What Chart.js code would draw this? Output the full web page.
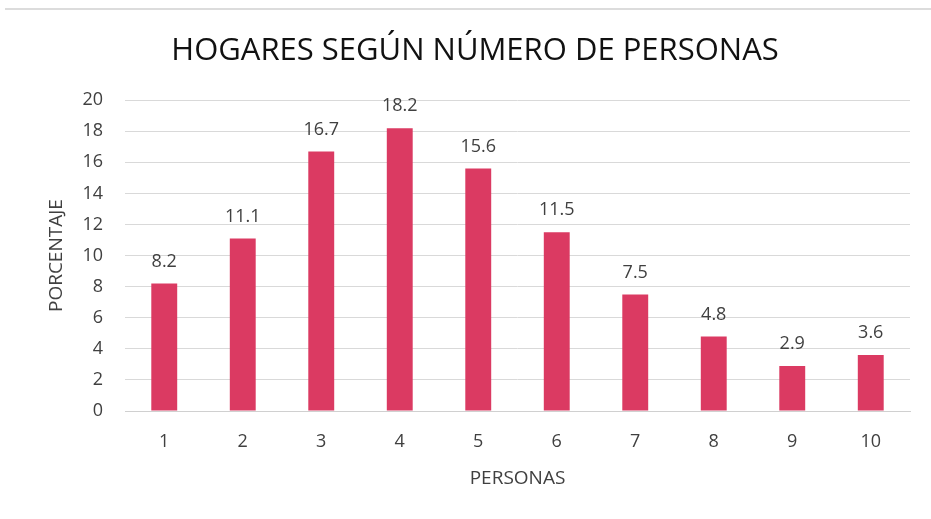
<!DOCTYPE html>
<html>
<head>
<meta charset="utf-8">
<script src="https://cdn.jsdelivr.net/npm/chart.js@4"></script>
<style>
  html, body { margin: 0; padding: 0; background: #fff; }
  #wrap { position: relative; width: 931px; height: 519px; }
  #topLine { position: absolute; left: 5px; right: 0; top: 8px; height: 2px; background: #dcdcdc; }
  canvas { position: absolute; left: 0; top: 0; }
</style>
</head>
<body>
<div id="wrap">
  <div id="topLine"></div>
  <canvas id="chart" width="931" height="519"></canvas>
</div>
<script>
const personas = ["1", "2", "3", "4", "5", "6", "7", "8", "9", "10"];
const porcentaje = [8.2, 11.1, 16.7, 18.2, 15.6, 11.5, 7.5, 4.8, 2.9, 3.6];
const yTicks = [0, 2, 4, 6, 8, 10, 12, 14, 16, 18, 20];

const fontName = "'Open Sans', 'DejaVu Sans', sans-serif";
const textColor = "#404040";

// draws the value above each bar
const valueLabels = {
    id: "valueLabels",
    afterDatasetsDraw(chart) {
        const ctx = chart.ctx;
        const meta = chart.getDatasetMeta(0);
        ctx.save();
        ctx.font = "18px " + fontName;
        ctx.fillStyle = textColor;
        ctx.textAlign = "center";
        ctx.textBaseline = "middle";
        meta.data.forEach((bar, i) => {
            ctx.fillText(porcentaje[i].toFixed(1), bar.x, bar.y - 22);
        });
        ctx.restore();
    }
};

const ctx = document.getElementById("chart").getContext("2d");
new Chart(ctx, {
    type: "bar",
    data: {
        labels: personas,
        datasets: [{
            data: porcentaje,
            backgroundColor: "#db3a62",
            borderWidth: 0,
            barPercentage: 0.33,
            categoryPercentage: 1
        }]
    },
    options: {
        responsive: false,
        animation: false,
        // left padding keeps the title centred where the original has it
        layout: { padding: { left: 40, right: 21, top: 0, bottom: 0 } },
        plugins: {
            legend: { display: false },
            tooltip: { enabled: false },
            title: {
                display: true,
                text: "HOGARES SEGÚN NÚMERO DE PERSONAS",
                color: "#111",
                font: { family: fontName, size: 31, weight: "normal" },
                padding: { top: 33, bottom: 30 }
            }
        },
        scales: {
            x: {
                grid: { display: false },
                border: { color: "#d0d0d0" },
                ticks: { color: textColor, font: { family: fontName, size: 18 }, padding: 12 },
                title: {
                    display: true,
                    text: "PERSONAS",
                    color: textColor,
                    font: { family: fontName, size: 19 },
                    padding: { top: 4, bottom: 29 }
                },
                afterFit(scale) { scale.height = 108; }
            },
            y: {
                min: 0,
                max: 20,
                afterBuildTicks(scale) { scale.ticks = yTicks.map(v => ({ value: v })); },
                grid: { color: "#d9d9d9", drawTicks: false },
                border: { display: false },
                ticks: { color: textColor, font: { family: fontName, size: 18 }, padding: 22 },
                title: {
                    display: true,
                    text: "PORCENTAJE",
                    color: textColor,
                    font: { family: fontName, size: 19 },
                    padding: { top: 5, bottom: 0 }
                },
                afterFit(scale) { scale.width = 85; }
            }
        }
    },
    plugins: [valueLabels]
});
</script>
</body>
</html>
